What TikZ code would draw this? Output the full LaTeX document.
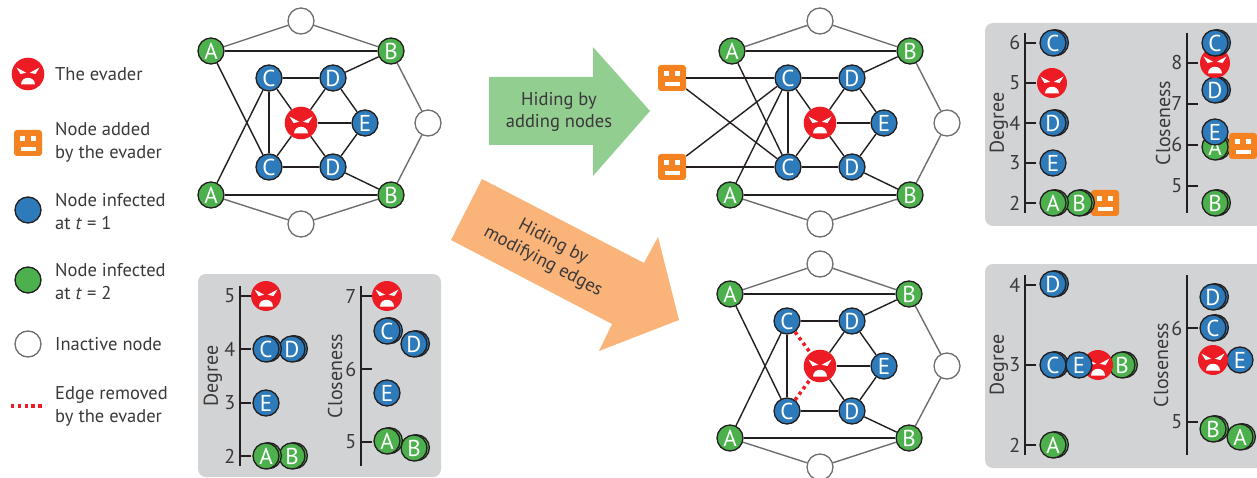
\documentclass[tikz,border=0pt]{standalone}
\usepackage{fontspec}
\setmainfont{PT Sans}
\usetikzlibrary{shadows}
\definecolor{ink}{HTML}{231F20}
\definecolor{txt}{HTML}{3A3839}
\definecolor{greyedge}{HTML}{6D6E71}
\definecolor{nblue}{HTML}{2E7BBB}
\definecolor{ngreen}{HTML}{4CB04D}
\definecolor{evred}{HTML}{ED1C24}
\definecolor{addorange}{HTML}{F58220}
\definecolor{panelgrey}{HTML}{D1D3D4}
\definecolor{arrowgreen}{HTML}{93CE91}
\definecolor{arroworange}{HTML}{FAB47A}
\tikzset{
  nd/.style={circle,draw=ink,line width=1.3pt,minimum size=26pt,inner sep=0pt,text=white,font=\fontsize{23}{23}\selectfont},
  bluen/.style={nd,fill=nblue},
  greenn/.style={nd,fill=ngreen},
  whiten/.style={nd,draw=greyedge,fill=white},
  bluestack/.style={bluen,copy shadow={shadow xshift=2.4pt,shadow yshift=.3pt,fill=nblue,draw=ink,line width=1.3pt}},
  greenstack/.style={greenn,copy shadow={shadow xshift=2.4pt,shadow yshift=.3pt,fill=ngreen,draw=ink,line width=1.3pt}},
  evader/.style={circle,fill=evred,draw=none,minimum size=#1,inner sep=0pt,
    path picture={\begin{scope}[shift={(path picture bounding box.center)},scale=#1/32.6]
      \fill[white] (-11.5,-6.5) -- (-1.8,-1.2) -- (-7.5,0) -- cycle;
      \fill[white] (11.5,-6.5) -- (1.8,-1.2) -- (7.5,0) -- cycle;
      \fill[white] (-7,10.5) .. controls (-6.8,6) and (-3.5,3.8) .. (0,3.8) .. controls (3.5,3.8) and (6.8,6) .. (7,10.5) -- cycle;
    \end{scope}}},
  added/.style={rectangle,rounded corners=3pt,fill=addorange,draw=none,minimum width=28pt,minimum height=26pt,inner sep=0pt,
    path picture={\begin{scope}[sharp corners,shift={(path picture bounding box.center)}]
      \fill[white] (-8.2,-6.5) rectangle (-3.4,-2.2);
      \fill[white] (3,-6.5) rectangle (7.8,-2.2);
      \fill[white] (-7.5,3.8) rectangle (7.5,8.2);
    \end{scope}}},
  coreedge/.style={draw=ink,line width=1.4pt},
  outeredge/.style={draw=greyedge,line width=1.4pt},
  removededge/.style={draw=evred,line width=3.5pt,dash pattern=on 3.3pt off 3.5pt},
  panel/.style={fill=panelgrey,draw=none,rounded corners=8pt},
  axisline/.style={draw=ink,line width=1.4pt},
  ticklabel/.style={anchor=east,inner sep=0pt,text=txt,font=\fontsize{20}{20}\selectfont},
  axistitle/.style={rotate=90,inner sep=0pt,text=txt,font=\fontsize{20}{20}\selectfont},
  legendtext/.style={anchor=west,align=left,inner sep=0pt,text=txt,font=\fontsize{18.5}{23}\selectfont},
  arrowtext/.style={align=center,inner sep=0pt,text=txt,font=\fontsize{18.5}{22}\selectfont},
}
\newcommand{\outeredges}[1]{%
  \foreach \pa/\pb in {A1/T,T/B1,B1/R,R/B2,B2/L,L/A2}
    \draw[outeredge] (#1\pa) -- (#1\pb);}
\newcommand{\coreedges}[1]{%
  \foreach \pa/\pb in {A1/B1,A1/C2,A2/C1,A2/B2,C1/D1,C1/C2,C2/D2,D1/X,D2/X,D1/E,D2/E,X/E,D1/B1,D2/B2}
    \draw[coreedge] (#1\pa) -- (#1\pb);}
\newcommand{\axisticks}[5]{% name, x, top y, bottom y, list of label/y
  \coordinate (#1t) at (#2,#3); \coordinate (#1b) at (#2,#4);
  \draw[axisline] (#1t) -- (#1b);
  \foreach \lab/\yy in {#5} {
    \coordinate (#1s\lab) at (#2,\yy);
    \draw[axisline] (#1s\lab) -- ++(10.5,0);
    \node[ticklabel] (#1n\lab) at ([xshift=-4.5pt]#1s\lab) {\lab};
  }}
\begin{document}
\begin{tikzpicture}[x=1pt,y=-1pt]
\useasboundingbox (0,0) rectangle (1257,478);
% panels
\fill[panel] (198,274) rectangle (441,477);
\fill[panel] (985,23) rectangle (1270,226);
\fill[panel] (985,264) rectangle (1270,468);
% big arrows
\fill[arrowgreen] (489,77) -- (593,77) -- (593,47) -- (650,111) -- (593,176) -- (593,145) -- (489,145) -- cycle;
\fill[arroworange] (482,179) -- (644,263) -- (658,237) -- (679,320) -- (599,351) -- (612,324) -- (451,240) -- cycle;
\node[arrowtext] (hidea) at (559,112) {Hiding by\\adding nodes};
\node[arrowtext,rotate=-27.5] (hideb) at (548,252) {Hiding by\\modifying edges};
% legend
\node[evader=32.6] (lev) at (28,74) {};
\node[added] (lad) at (28,143) {};
\node[bluen] (lbl) at (28,210) {};
\node[greenn] (lgr) at (28,280) {};
\node[whiten] (lwh) at (28,344) {};
\coordinate (lr1) at (11,406); \coordinate (lr2) at (45,406);
\draw[removededge] (lr1) -- (lr2);
\node[legendtext] (t1) at (55,74) {The evader};
\node[legendtext] (t2) at (55,142) {Node added\\by the evader};
\node[legendtext] (t3) at (55,212) {Node infected\\at \textit{t} = 1};
\node[legendtext] (t4) at (55,282) {Node infected\\at \textit{t} = 2};
\node[legendtext] (t5) at (55,344) {Inactive node};
\node[legendtext] (t6) at (55,406) {Edge removed\\by the evader};
% graph 1
\node[greenn] (aA1) at (211,51) {A};
\node[greenn] (aB1) at (391,51) {B};
\node[greenn] (aA2) at (211,195) {A};
\node[greenn] (aB2) at (391,195) {B};
\node[whiten] (aT) at (301,21) {};
\node[whiten] (aR) at (428,123) {};
\node[whiten] (aL) at (301,224) {};
\node[bluen] (aC1) at (269,78) {C};
\node[bluen] (aD1) at (333,78) {D};
\node[bluen] (aC2) at (269,167) {C};
\node[bluen] (aD2) at (333,167) {D};
\node[bluen] (aE) at (365,123) {E};
\node[evader=32.6] (aX) at (301,123) {};
\outeredges{a}\coreedges{a}
\draw[coreedge] (aC1) -- (aX);
\draw[coreedge] (aC2) -- (aX);
% graph 2
\node[greenn] (bA1) at (732,51) {A};
\node[greenn] (bB1) at (910,51) {B};
\node[greenn] (bA2) at (730,195) {A};
\node[greenn] (bB2) at (910,195) {B};
\node[whiten] (bT) at (820,21) {};
\node[whiten] (bR) at (947,123) {};
\node[whiten] (bL) at (820,224) {};
\node[bluen] (bC1) at (788,78) {C};
\node[bluen] (bD1) at (852,78) {D};
\node[bluen] (bC2) at (788,167) {C};
\node[bluen] (bD2) at (852,167) {D};
\node[bluen] (bE) at (884,123) {E};
\node[evader=32.6] (bX) at (820,123) {};
\node[added] (bO1) at (672,78) {};
\node[added] (bO2) at (672,167) {};
\outeredges{b}\coreedges{b}
\draw[coreedge] (bC1) -- (bX);
\draw[coreedge] (bC2) -- (bX);
\draw[coreedge] (bO1) -- (bC1);
\draw[coreedge] (bO1) -- (bC2);
\draw[coreedge] (bO2) -- (bC1);
\draw[coreedge] (bO2) -- (bC2);
% graph 3
\node[greenn] (cA1) at (730,294) {A};
\node[greenn] (cB1) at (909,294) {B};
\node[greenn] (cA2) at (730,438) {A};
\node[greenn] (cB2) at (909,438) {B};
\node[whiten] (cT) at (820,264) {};
\node[whiten] (cR) at (947,366) {};
\node[whiten] (cL) at (820,467) {};
\node[bluen] (cC1) at (787,321) {C};
\node[bluen] (cD1) at (852,321) {D};
\node[bluen] (cC2) at (787,411) {C};
\node[bluen] (cD2) at (852,411) {D};
\node[bluen] (cE) at (884,366) {E};
\node[evader=32.6] (cX) at (820,366) {};
\outeredges{c}\coreedges{c}
\draw[removededge] (cC1) -- (cX);
\draw[removededge] (cC2) -- (cX);
% lower-left panel
\axisticks{pa}{240}{286}{466}{5/296,4/349,3/403,2/456}
\axisticks{pb}{361}{286}{466}{7/296,6/369,5/442}
\node[axistitle] (pat) at (213,376) {Degree};
\node[axistitle] (pbt) at (335,376) {Closeness};
\node[evader=30] (pa5) at (266,296) {};
\node[bluestack] (paD) at (292,349) {D};
\node[bluestack] (paC) at (266,349) {C};
\node[bluen] (paE) at (266,403) {E};
\node[greenstack] (paB) at (292,456) {B};
\node[greenstack] (paA) at (266,456) {A};
\node[evader=30] (pb7) at (387,296) {};
\node[bluestack] (pbD) at (414,344) {D};
\node[bluestack] (pbC) at (387,331) {C};
\node[bluen] (pbE) at (387,393) {E};
\node[greenstack] (pbB) at (414,448) {B};
\node[greenstack] (pbA) at (387,441) {A};
% upper-right panel
\axisticks{qa}{1025}{33}{213}{6/43,5/83,4/123,3/163,2/203}
\axisticks{qb}{1187}{33}{213}{8/63,7/104,6/145,5/186}
\node[axistitle] (qat) at (999,123) {Degree};
\node[axistitle] (qbt) at (1163,123) {Closeness};
\node[bluestack] (qaC) at (1053,43) {C};
\node[evader=30] (qaX) at (1052,83) {};
\node[bluestack] (qaD) at (1053,123) {D};
\node[bluen] (qaE) at (1053,163) {E};
\node[added] (qaO) at (1105,203) {};
\node[greenstack] (qaB) at (1079,203) {B};
\node[greenstack] (qaA) at (1053,203) {A};
\node[bluestack] (qbD) at (1215,90) {D};
\node[evader=30] (qbX) at (1215,63) {};
\node[bluestack] (qbC) at (1215,43) {C};
\node[greenstack] (qbA) at (1215,147) {A};
\node[bluen] (qbE) at (1215,132) {E};
\node[added] (qbO) at (1243,146) {};
\node[greenstack] (qbB) at (1215,203) {B};
% lower-right panel
\axisticks{ra}{1025}{275}{455}{4/285,3/365,2/445}
\axisticks{rb}{1187}{275}{455}{6/328,5/422}
\node[axistitle] (rat) at (999,365) {Degree};
\node[axistitle] (rbt) at (1161,365) {Closeness};
\node[bluestack] (raD) at (1053,284) {D};
\node[greenstack] (raB) at (1122,365) {B};
\node[evader=30] (raX) at (1098,365) {};
\node[bluestack] (raC) at (1053,365) {C};
\node[bluen] (raE) at (1079,365) {E};
\node[greenstack] (raA) at (1053,445) {A};
\node[bluestack] (rbD) at (1213,297) {D};
\node[bluestack] (rbC) at (1213,328) {C};
\node[bluen] (rbE) at (1240,360) {E};
\node[evader=30] (rbX) at (1213,360) {};
\node[greenstack] (rbA) at (1240,437) {A};
\node[greenstack] (rbB) at (1213,429) {B};
\end{tikzpicture}
\end{document}
